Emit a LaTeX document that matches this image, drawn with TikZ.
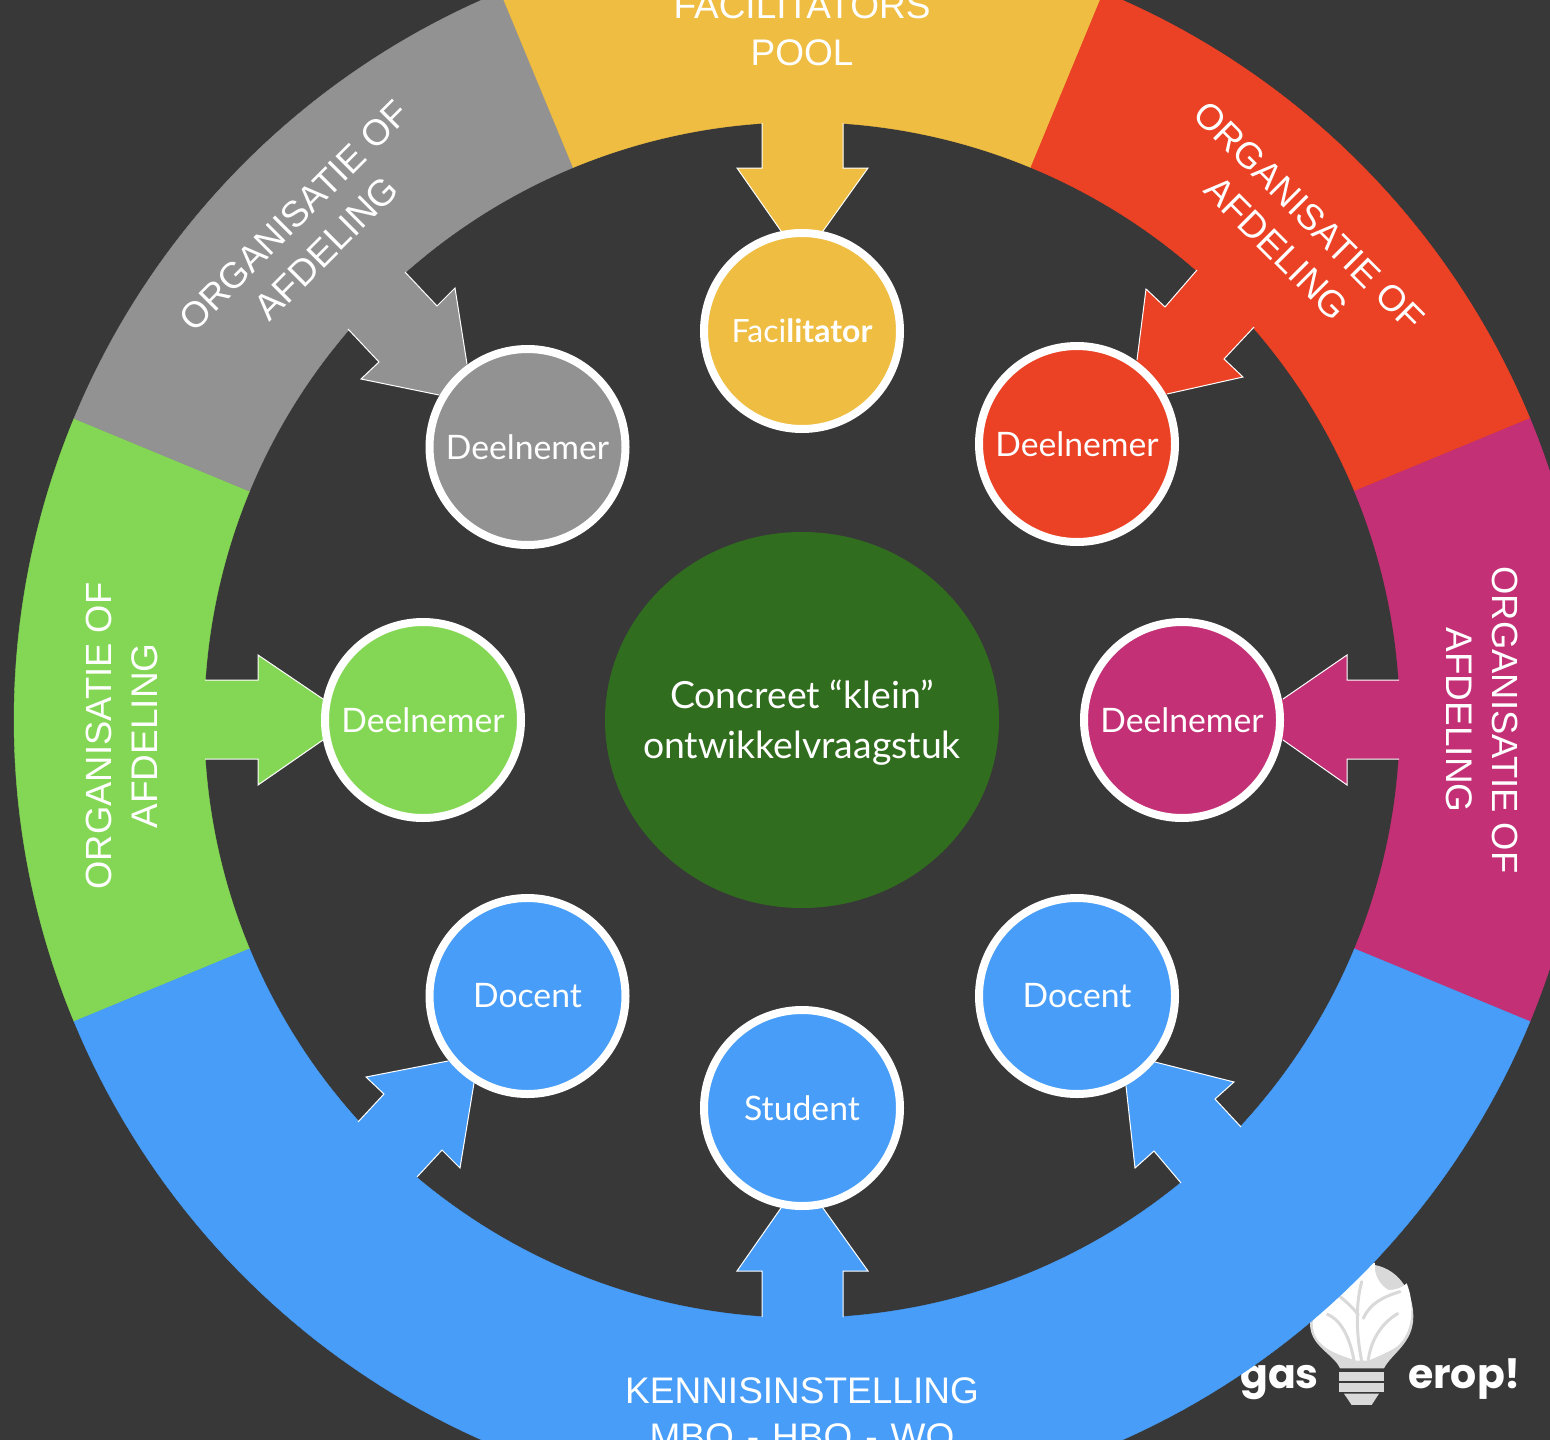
\documentclass[tikz,border=0pt]{standalone}
\usepackage{fontspec}
\usetikzlibrary{shapes.geometric}
\setmainfont{Lato}
\newfontfamily\ringfont{Liberation Sans}
\newfontfamily\logofont{Poppins}
\definecolor{bgc}{HTML}{383838}
\definecolor{yel}{HTML}{EFBD42}
\definecolor{redc}{HTML}{EB4125}
\definecolor{mag}{HTML}{C33075}
\definecolor{blu}{HTML}{479DF8}
\definecolor{grn}{HTML}{84D754}
\definecolor{gry}{HTML}{929292}
\definecolor{dgr}{HTML}{316D1E}
\definecolor{bulb}{HTML}{D9D9D9}
\tikzset{
  person/.style={circle,draw=white,line width=8pt,minimum size=196pt,inner sep=0pt,text=white,font=\fontsize{33.7}{38}\selectfont},
  ringlabel/.style={text=white,align=center,inner sep=0pt,font=\ringfont\fontsize{37}{46}\selectfont},
  logotext/.style={text=white,anchor=base,inner sep=0pt,font=\logofont\bfseries\fontsize{41}{50}\selectfont},
  edgeline/.style={draw=white,line width=1pt,line join=miter}
}
\newcommand\ringsector[3]{%
  \fill[#1,draw=#1,line width=0.4pt] plot[domain=#2:#3,samples=120] ({802+788*cos(\x)},{720-788*sin(\x)})
    -- plot[domain=#3:#2,samples=120] ({802+598*cos(\x)},{720-598*sin(\x)}) -- cycle;}
\newcommand\flow[5]{%
  \fill[#1] #3 -- (#2) -- #4 -- #5 -- cycle;
  \draw[edgeline] #3;
  \draw[edgeline] #4;}
\newcommand\orgtext{{\fontsize{36.4}{46}\selectfont ORGANISATIE OF}\\AFDELING}
\begin{document}
\begin{tikzpicture}[x=1pt,y=-1pt]
\useasboundingbox (0,0) rectangle (1550,1440);
\clip (0,0) rectangle (1550,1440);
\fill[bgc] (0,0) rectangle (1550,1440);
% logo
\begin{scope}[shift={(1200,1240)},x=0.3333pt,y=-0.3333pt]
  \fill[bulb] (420,385) .. controls (400,340) and (330,320) .. (330,250)
     .. controls (330,150) and (430,75) .. (525,75)
     .. controls (600,90) and (640,160) .. (640,230)
     .. controls (640,310) and (575,340) .. (552,385) -- cycle;
  \fill[white] (470,362) .. controls (420,345) and (338,325) .. (338,250)
     .. controls (338,170) and (440,90) .. (525,68)
     .. controls (520,105) and (540,135) .. (565,150)
     .. controls (585,150) and (605,145) .. (620,130)
     .. controls (645,190) and (640,280) .. (590,320)
     .. controls (560,340) and (530,350) .. (505,362) -- cycle;
  \draw[bulb,line width=3pt,line cap=round] (485,362) .. controls (470,290) and (465,200) .. (485,125);
  \draw[bulb,line width=3pt,line cap=round] (475,225) .. controls (465,210) and (445,190) .. (420,170);
  \draw[bulb,line width=3pt,line cap=round] (490,235) .. controls (510,190) and (550,170) .. (600,155);
  \draw[bulb,line width=3pt] (462,362) .. controls (450,295) and (425,240) .. (380,222);
  \draw[bulb,line width=3pt] (505,362) .. controls (510,310) and (540,250) .. (595,220);
  \fill[bulb] (418,395) rectangle (552,422);
  \fill[bulb] (418,428) rectangle (552,455);
  \fill[bulb] (432,461) -- (537,461) -- (515,495) -- (455,495) -- cycle;
\end{scope}
\node[logotext] (gas) at (1279.5,1388) {gas};
\node[logotext] (erop) at (1464.5,1388) {erop!};
% ring
\ringsector{grn}{157.5}{202.5}
\ringsector{gry}{112.5}{157.5}
\ringsector{yel}{67.5}{112.5}
\ringsector{redc}{22.5}{67.5}
\ringsector{mag}{-22.5}{22.5}
\ringsector{blu}{202.5}{337.5}
% positions of the people, so the arrows can reach them
\coordinate (cfac) at (802,331);
\coordinate (cred) at (1077,444);
\coordinate (cgry) at (527.5,447);
\coordinate (cgrn) at (423,720);
\coordinate (cmag) at (1182,720);
\coordinate (cdl) at (527.5,996);
\coordinate (cdr) at (1077,996);
\coordinate (cst) at (802,1108);
% arrows
\flow{yel}{cfac}{(762,123) -- (762,168) -- (737,168) -- (781,231)}{(823,231) -- (868,168) -- (843,168) -- (843,123)}{(802,105)}
\flow{redc}{cred}{(1197,270) -- (1165,307) -- (1146,289) -- (1137,360)}{(1167,394) -- (1243,377) -- (1224,359) -- (1254,327)}{(1237,285)}
\flow{gry}{cgry}{(405,272) -- (437,306) -- (455,288) -- (467,364)}{(439,395) -- (361,379) -- (379,362) -- (348,329)}{(367,285)}
\flow{grn}{cgrn}{(205,680) -- (258,680) -- (258,655) -- (323,699)}{(323,740) -- (258,785) -- (258,759) -- (205,759)}{(187,720)}
\flow{mag}{cmag}{(1399,680) -- (1347,680) -- (1347,655) -- (1283,699)}{(1283,740) -- (1347,785) -- (1347,759) -- (1399,759)}{(1417,720)}
\flow{blu}{cdl}{(358,1122) -- (384,1094) -- (366,1077) -- (448,1061)}{(474,1083) -- (460,1168) -- (442,1150) -- (417,1177)}{(367,1155)}
\flow{blu}{cdr}{(1241,1127) -- (1215,1099) -- (1234,1082) -- (1155,1062)}{(1126,1086) -- (1135,1168) -- (1154,1151) -- (1181,1183)}{(1237,1155)}
\flow{blu}{cst}{(762,1317) -- (762,1271) -- (737,1271) -- (781,1208)}{(823,1208) -- (868,1271) -- (843,1271) -- (843,1317)}{(802,1335)}
% nodes
\node[person,fill=yel,font=\fontsize{32}{38}\selectfont] (fac) at (cfac) {Faci{\bfseries litator}};
\node[person,fill=redc] (pred) at (cred) {Deelnemer};
\node[person,fill=gry] (pgry) at (cgry) {Deelnemer};
\node[person,fill=grn] (pgrn) at (cgrn) {Deelnemer};
\node[person,fill=mag] (pmag) at (cmag) {Deelnemer};
\node[person,fill=blu] (dl) at (cdl) {Docent};
\node[person,fill=blu] (dr) at (cdr) {Docent};
\node[person,fill=blu] (st) at (cst) {Student};
\node[ellipse,fill=dgr,minimum width=394pt,minimum height=376pt,inner sep=0pt] (core) at (802,720) {};
\node[text=white,align=center,inner sep=0pt,font=\fontsize{37.4}{50}\selectfont] (coretext) at (802,722.5) {Concreet “klein”\\ontwikkelvraagstuk};
% ring labels
\node[ringlabel,anchor=base] (t1) at (802,19) {FACILITATORS};
\node[ringlabel,anchor=base] (t2) at (802,65) {POOL};
\node[ringlabel,anchor=base] (b1) at (802,1403) {KENNISINSTELLING};
\node[ringlabel,anchor=base] (b2) at (802,1449) {MBO\hspace{13pt}-\hspace{13pt}HBO\hspace{13pt}-\hspace{13pt}WO};
\node[ringlabel,rotate=-45] (lred) at (1293,232) {\orgtext};
\node[ringlabel,rotate=45] (lgry) at (310,232) {\orgtext};
\node[ringlabel,rotate=90] (lgrn) at (122,736) {\orgtext};
\node[ringlabel,rotate=-90] (lmag) at (1482,720) {\orgtext};
\end{tikzpicture}
\end{document}
